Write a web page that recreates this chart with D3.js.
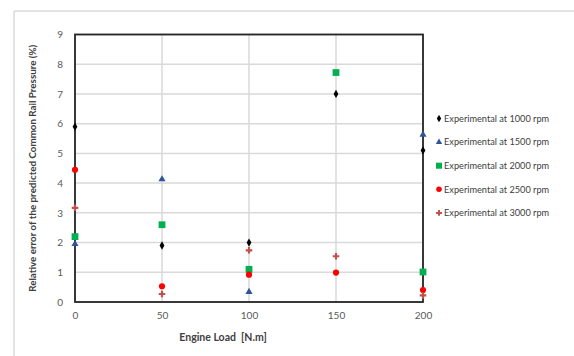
<!DOCTYPE html>
<html>
<head>
<meta charset="utf-8">
<script src="https://cdn.jsdelivr.net/npm/d3@7"></script>
<style>
    body { margin: 0; background: #fff; }
    svg text { font-family: Lato, "Open Sans", sans-serif; }
</style>
</head>
<body>
<svg id="chart" width="574" height="356"></svg>
<script>
// Data
const loads = [0, 50, 100, 150, 200];
const rpm1000 = [5.9, 1.9, 2.0, 7.0, 5.1];
const rpm1500 = [1.95, 4.13, 0.34, null, 5.63];
const rpm2000 = [2.2, 2.6, 1.1, 7.72, 1.01];
const rpm2500 = [4.45, 0.53, 0.92, 0.99, 0.4];
const rpm3000 = [3.17, 0.27, 1.74, 1.54, 0.22];
const xTicks = [0, 50, 100, 150, 200];
const yTicks = [0, 1, 2, 3, 4, 5, 6, 7, 8, 9];
const seriesNames = ["Experimental at 1000 rpm", "Experimental at 1500 rpm", "Experimental at 2000 rpm",
    "Experimental at 2500 rpm", "Experimental at 3000 rpm"];

const series = [
    {name: seriesNames[0], values: rpm1000, shape: d3.symbolDiamond, size: 20, color: "#000000"},
    {name: seriesNames[1], values: rpm1500, shape: d3.symbolTriangle, size: 22, color: "#2f5597"},
    {name: seriesNames[2], values: rpm2000, shape: d3.symbolSquare, size: 46, color: "#00b050"},
    {name: seriesNames[3], values: rpm2500, shape: d3.symbolCircle, size: 30, color: "#ff0000"},
    {name: seriesNames[4], values: rpm3000, shape: d3.symbolCross, size: 24, color: "#c0504d"}
];

const margin = {top: 34.5, right: 151, bottom: 54, left: 75};
const width = 574, height = 356;

const svg = d3.select("#chart");

// outer frame (only top and left visible)
svg.append("path")
    .attr("d", "M14,356 V11 H574")
    .attr("fill", "none")
    .attr("stroke", "#c8c8c8")
    .attr("stroke-width", 1);

const x = d3.scaleLinear()
    .domain([0, 200])
    .range([margin.left, width - margin.right]);
const y = d3.scaleLinear()
    .domain([0, 9])
    .range([height - margin.bottom, margin.top]);

// Grid
svg.append("g").selectAll("line")
    .data(yTicks)
    .enter().append("line")
    .attr("x1", x(0)).attr("x2", x(200))
    .attr("y1", d => y(d)).attr("y2", d => y(d))
    .attr("stroke", "#d9d9d9").attr("stroke-width", 1.5);
svg.append("g").selectAll("line")
    .data(xTicks)
    .enter().append("line")
    .attr("x1", d => x(d)).attr("x2", d => x(d))
    .attr("y1", y(0)).attr("y2", y(9))
    .attr("stroke", "#d9d9d9").attr("stroke-width", 1.5);

// Plot frame
svg.append("rect")
    .attr("x", x(0)).attr("y", y(9))
    .attr("width", x(200) - x(0))
    .attr("height", y(0) - y(9))
    .attr("fill", "none")
    .attr("stroke", "#262626")
    .attr("stroke-width", 1.8);

// Axes
const yAxis = svg.append("g")
    .attr("transform", `translate(${x(0)},0)`)
    .call(d3.axisLeft(y).tickValues(yTicks).tickSize(0).tickPadding(12).tickFormat(d3.format("d")));
yAxis.select(".domain").remove();
yAxis.selectAll("text").attr("font-size", 10).attr("fill", "#595959")
    .style("font-family", "Lato, sans-serif");

const xAxis = svg.append("g")
    .attr("transform", `translate(0,${y(0)})`)
    .call(d3.axisBottom(x).tickValues(xTicks).tickSize(0).tickPadding(10).tickFormat(d3.format("d")));
xAxis.select(".domain").remove();
xAxis.selectAll("text").attr("font-size", 10).attr("fill", "#595959")
    .style("font-family", "Lato, sans-serif");

// Axis titles
svg.append("text")
    .attr("x", 223)
    .attr("y", 341)
    .attr("text-anchor", "middle")
    .attr("font-size", 10.5)
    .attr("font-weight", "bold")
    .attr("fill", "#404040")
    .attr("xml:space", "preserve")
    .text("Engine Load  [N.m]");

svg.append("text")
    .attr("transform", `translate(36,${(y(0) + y(9)) / 2}) rotate(-90)`)
    .attr("text-anchor", "middle")
    .attr("font-size", 9.8)
    .attr("font-weight", "bold")
    .attr("fill", "#404040")
    .text("Relative error of the predicted Common Rail Pressure (%)");

// Points
series.forEach(s => {
    svg.append("g").selectAll("path")
        .data(loads.map((l, i) => ({load: l, v: s.values[i]})).filter(d => d.v != null))
        .enter().append("path")
        .attr("transform", d => `translate(${x(d.load)},${y(d.v)})`)
        .attr("d", d3.symbol().type(s.shape).size(s.size))
        .attr("fill", s.color);
});

// Legend
const legend = svg.append("g")
    .selectAll("g")
    .data(series)
    .enter().append("g")
    .attr("transform", (d, i) => `translate(439,${118.5 + i * 23.6})`);
legend.append("path")
    .attr("d", d => d3.symbol().type(d.shape).size(d.size * 0.8)())
    .attr("fill", d => d.color);
legend.append("text")
    .attr("x", 5)
    .attr("y", 3.2)
    .attr("font-size", 9.2)
    .attr("fill", "#404040")
    .text(d => d.name);
</script>
</body>
</html>
